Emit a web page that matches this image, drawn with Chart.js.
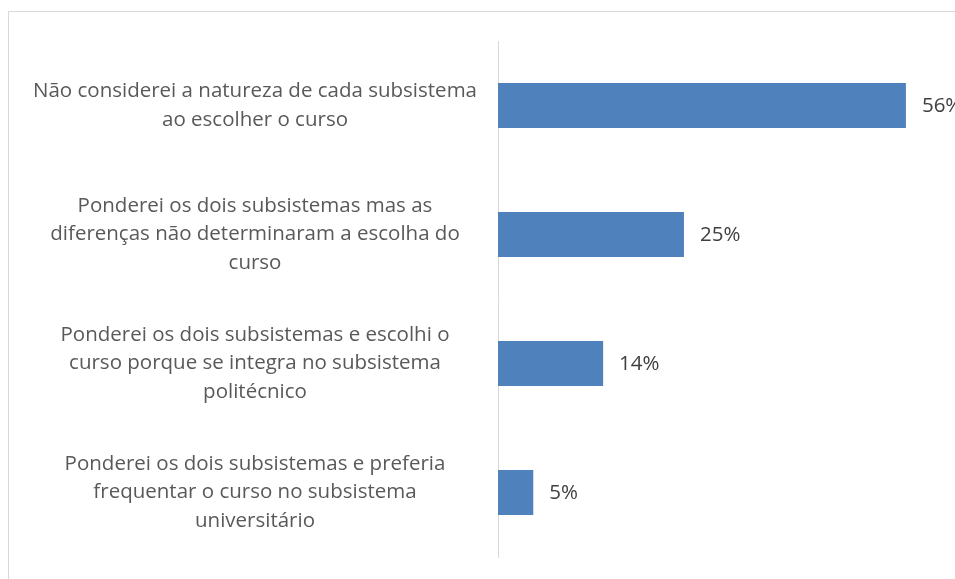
<!DOCTYPE html>
<html>
<head>
<meta charset="utf-8">
<script src="https://cdn.jsdelivr.net/npm/chart.js@4"></script>
<style>
  html, body { margin: 0; padding: 0; background: #fff; overflow: hidden; }
  #wrap { width: 955px; height: 579px; }
</style>
</head>
<body>
<div id="wrap"><canvas id="myChart" width="955" height="579"></canvas></div>
<script>
// categorias (cada uma em varias linhas, como no grafico original)
const categories = [
  ['Não considerei a natureza de cada subsistema', 'ao escolher o curso'],
  ['Ponderei os dois subsistemas mas as', 'diferenças não determinaram a escolha do', 'curso'],
  ['Ponderei os dois subsistemas e escolhi o', 'curso porque se integra no subsistema', 'politécnico'],
  ['Ponderei os dois subsistemas e preferia', 'frequentar o curso no subsistema', 'universitário']
];
// percentagens
const values = [55.5, 25.3, 14.3, 4.8];

// moldura cinzenta (cortada a direita e em baixo)
const frame = {
  id: 'frame',
  beforeDraw(chart) {
    const ctx = chart.ctx;
    ctx.save();
    ctx.strokeStyle = '#d9d9d9';
    ctx.lineWidth = 1;
    ctx.strokeRect(8.5, 11.5, 2000, 2000);
    ctx.restore();
  }
};

// rotulos de valor a direita de cada barra
const valueLabels = {
  id: 'valueLabels',
  afterDatasetsDraw(chart) {
    const ctx = chart.ctx;
    const meta = chart.getDatasetMeta(0);
    ctx.save();
    ctx.font = '20.5px "Open Sans"';
    ctx.fillStyle = '#404040';
    ctx.textAlign = 'left';
    ctx.textBaseline = 'middle';
    meta.data.forEach((bar, i) => {
      ctx.fillText(Math.round(values[i]) + '%', bar.x + 16, bar.y + 1);
    });
    ctx.restore();
  }
};

new Chart(document.getElementById('myChart'), {
  type: 'bar',
  data: {
    labels: categories,
    datasets: [{
      data: values,
      backgroundColor: '#4f81bd',
      categoryPercentage: 1,
      barPercentage: 0.35
    }]
  },
  options: {
    indexAxis: 'y',
    responsive: false,
    animation: false,
    layout: { padding: { top: 41, bottom: 22, left: 0, right: 16 } },
    plugins: {
      legend: { display: false },
      tooltip: { enabled: false }
    },
    scales: {
      x: {
        display: false,
        min: 0,
        max: 60
      },
      y: {
        afterFit(scale) {
          scale.width = 498;
          scale.paddingTop = 0;
          scale.paddingBottom = 0;
        },
        grid: { display: false, drawTicks: false },
        border: { display: true, color: '#d9d9d9', width: 1 },
        ticks: {
          crossAlign: 'center',
          padding: 21,
          color: '#595959',
          font: { family: 'Open Sans', size: 20.5, lineHeight: 1.4 }
        }
      }
    }
  },
  plugins: [frame, valueLabels]
});
</script>
</body>
</html>
